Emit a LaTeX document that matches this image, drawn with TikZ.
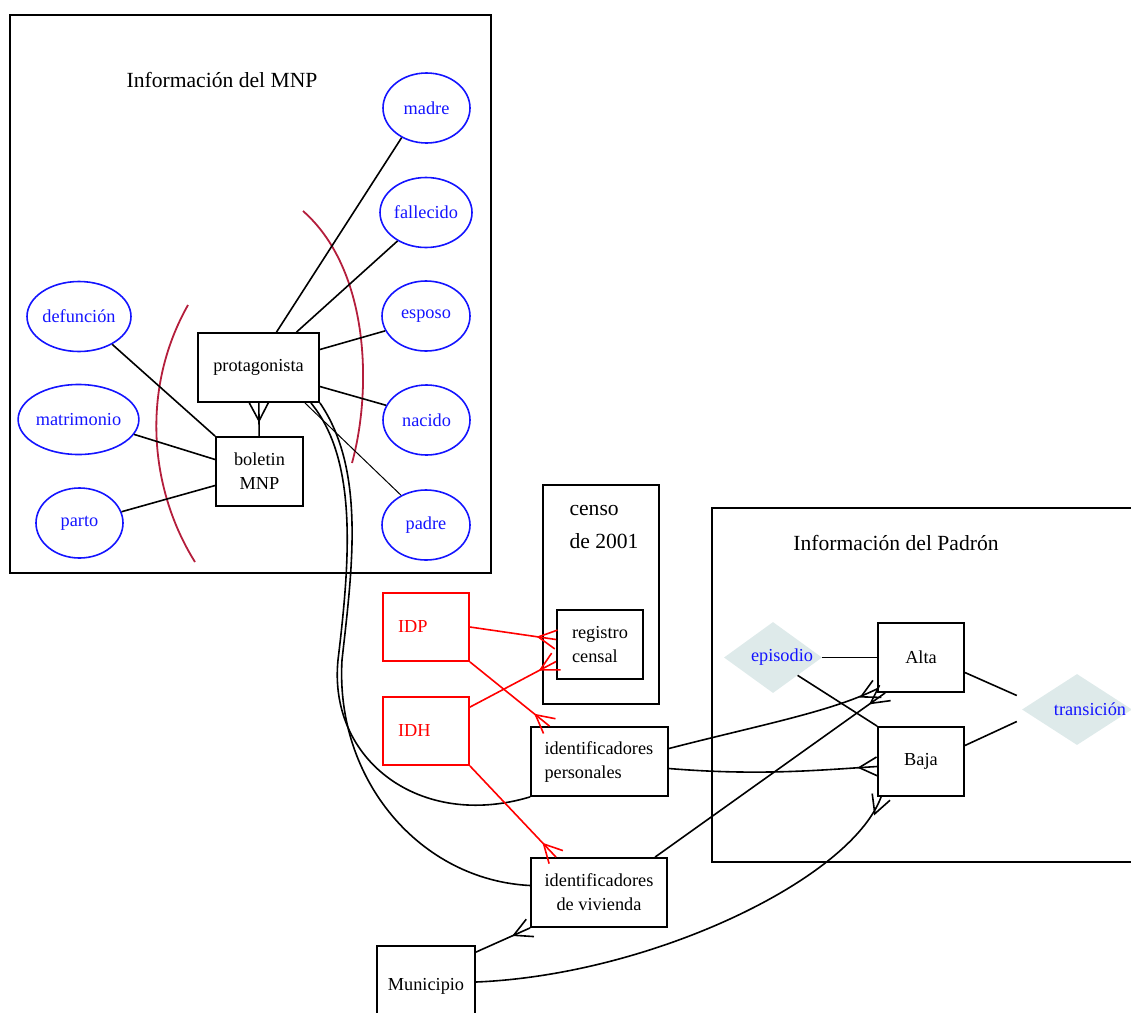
\documentclass[tikz,border=0pt]{standalone}
\usepackage{fontspec}
\setmainfont{Liberation Serif}
\usetikzlibrary{shapes.geometric,arrows.meta,positioning}
\definecolor{arcred}{RGB}{180,30,60}
\definecolor{relfill}{RGB}{222,234,234}
\definecolor{attrblue}{RGB}{20,20,255}
\pgfdeclarearrow{
  name=Crow,
  parameters={\the\pgfarrowlength,\the\pgfarrowwidth},
  setup code={
    \pgfarrowssettipend{0pt}
    \pgfarrowssetlineend{0pt}
    \pgfarrowssetbackend{-\pgfarrowlength}
    \pgfarrowssavethe\pgfarrowlength
    \pgfarrowssavethe\pgfarrowwidth
  },
  drawing code={
    \pgfpathmoveto{\pgfqpoint{0pt}{.5\pgfarrowwidth}}
    \pgfpathlineto{\pgfqpoint{-\pgfarrowlength}{0pt}}
    \pgfpathlineto{\pgfqpoint{0pt}{-.5\pgfarrowwidth}}
    \pgfusepathqstroke
  },
  defaults={length=18pt,width=18pt}
}
\begin{document}
\begin{tikzpicture}[x=1pt,y=-1pt,
  txt/.style={font=\fontsize{18.3}{24}\selectfont},
  ttl/.style={font=\fontsize{21.6}{33}\selectfont},
  ent/.style={txt,draw,rectangle,line width=1.8pt,minimum height=69pt,inner sep=0pt},
  attr/.style={txt,draw=attrblue,text=attrblue,ellipse,line width=1.6pt,minimum height=70pt,inner sep=0pt},
  rel/.style={diamond,aspect=1.4,fill=relfill,minimum width=98pt,minimum height=71pt,inner sep=0pt},
  lnk/.style={line width=1.6pt},
  crow/.style={lnk,-{Crow[length=18pt,width=19pt]}},
  idlink/.style={crow,red}]
\useasboundingbox (0,0) rectangle (1131,1012);
\draw[line width=2.2pt] (10,15) rectangle (491,573);
\node[ttl] (mnp) at (222,80) {Información del MNP};
\node[ent,minimum width=121pt] (prot) at (258.5,367.5) {protagonista};
\node[ent,minimum width=87pt,align=center] (bol) at (259.5,471.5) {boletin\\MNP};
\node[attr,minimum width=87pt] (madre) at (426.5,108) {madre};
\node[attr,minimum width=92pt] (fall) at (426,212.5) {fallecido};
\node[attr,minimum width=88pt] (esp) at (426,316) {esposo};
\node[attr,minimum width=87pt] (nac) at (426.5,420) {nacido};
\node[attr,minimum width=88pt] (padre) at (426,525) {padre};
\node[attr,minimum width=104pt] (def) at (79,316.5) {defunción};
\node[attr,minimum width=119pt] (matr) at (78.5,419.5) {matrimonio};
\node[attr,minimum width=87pt] (parto) at (79.5,523) {parto};
\draw[line width=1.1pt] (543,485) rectangle (659,704);
\node[ttl,align=left,anchor=west] (censo) at (566,527) {censo\\de 2001};
\node[ent,minimum width=86pt,text width=56pt,inner xsep=15pt,align=left] (reg) at (600,644.5) {registro\\censal};
\node[ent,draw=red,text=red,minimum width=86pt,minimum height=68pt,text width=56pt,inner xsep=15pt,align=left] (idp) at (426,627) {IDP};
\node[ent,draw=red,text=red,minimum width=86pt,minimum height=68pt,text width=56pt,inner xsep=15pt,align=left] (idh) at (426,731) {IDH};
\node[ent,minimum width=137pt,text width=110pt,inner xsep=13.5pt,align=left] (idper) at (599.5,761.5) {identificadores\\personales};
\node[ent,minimum width=136pt,align=center] (idviv) at (599,892.5) {identificadores\\de vivienda};
\node[ent,minimum width=98pt,minimum height=80pt] (mun) at (426,986) {Municipio};
\draw[line width=2.2pt] (712,508) rectangle (1140,862);
\node[ttl] (padron) at (896,543) {Información del Padrón};
\node[ent,minimum width=86pt] (alta) at (921,657.5) {Alta};
\node[ent,minimum width=86pt] (baja) at (921,761.5) {Baja};
\node[rel] (epi) at (773,657.5) {};
\node[txt,text=attrblue] (epitxt) at ([xshift=9pt]epi.center) {episodio};
\node[rel,minimum width=110pt] (trans) at (1077,709.5) {};
\node[txt,text=attrblue] (transtxt) at ([xshift=13pt]trans.center) {transición};
\draw[arcred,line width=1.8pt] (188,305) .. controls (140,390) and (150,490) .. (195,562);
\draw[arcred,line width=1.8pt] (303,211) .. controls (370,270) and (372,390) .. (352,463);
\draw[crow] (bol) -- (prot);
\draw[lnk] ([xshift=18pt]prot.north) -- (madre.230);
\draw[lnk] ([xshift=38pt]prot.north) -- (fall.225);
\draw[lnk] ([yshift=18pt]prot.east) -- (esp.200);
\draw[lnk] ([yshift=-19pt]prot.east) -- (nac.160);
\draw[line width=1pt] ([xshift=-15pt]prot.south east) -- (padre.130);
\draw[lnk] (def.320) -- (bol.north west);
\draw[lnk] (matr.345) -- ([yshift=12pt]bol.west);
\draw[lnk] (parto.15) -- ([yshift=-14pt]bol.west);
\draw[lnk] ([xshift=-9pt]prot.south east) .. controls (358,460) and (350,560) .. (338,660) .. controls (328,760) and (420,830) .. (idper.south west);
\draw[lnk] (prot.south east) .. controls (366,470) and (352,570) .. (342,660) .. controls (335,780) and (420,880) .. ([yshift=7pt]idviv.west);
\draw[idlink] (idp.east) -- ([yshift=5pt]reg.west);
\draw[idlink] ([yshift=-11pt]idh.north east) -- ([yshift=-17pt]reg.west);
\draw[idlink] (idp.south east) -- ([xshift=-50pt]idper.north);
\draw[idlink] (idh.south east) -- ([xshift=-43pt]idviv.north);
\draw[crow] ([yshift=13pt]idper.east) .. controls (760,725) and (830,712) .. ([yshift=4pt]alta.south west);
\draw[crow] ([yshift=-7pt]idper.east) .. controls (760,776) and (820,770) .. ([yshift=-5pt]baja.west);
\draw[crow] ([xshift=56pt]idviv.north) -- ([xshift=8pt]alta.south west);
\draw[crow] ([yshift=4pt]mun.east) .. controls (650,975) and (850,880) .. ([xshift=4pt]baja.south west);
\draw[crow] ([yshift=-7pt]mun.north east) -- (idviv.south west);
\draw[lnk] (epi.east) -- (alta.west);
\draw[lnk] (epi.south east) -- (baja.north west);
\draw[lnk] ([yshift=-15pt]alta.east) -- ([shift={(-5pt,14pt)}]trans.west);
\draw[lnk] ([yshift=16pt]baja.east) -- ([shift={(-5pt,-12pt)}]trans.west);
\end{tikzpicture}
\end{document}
